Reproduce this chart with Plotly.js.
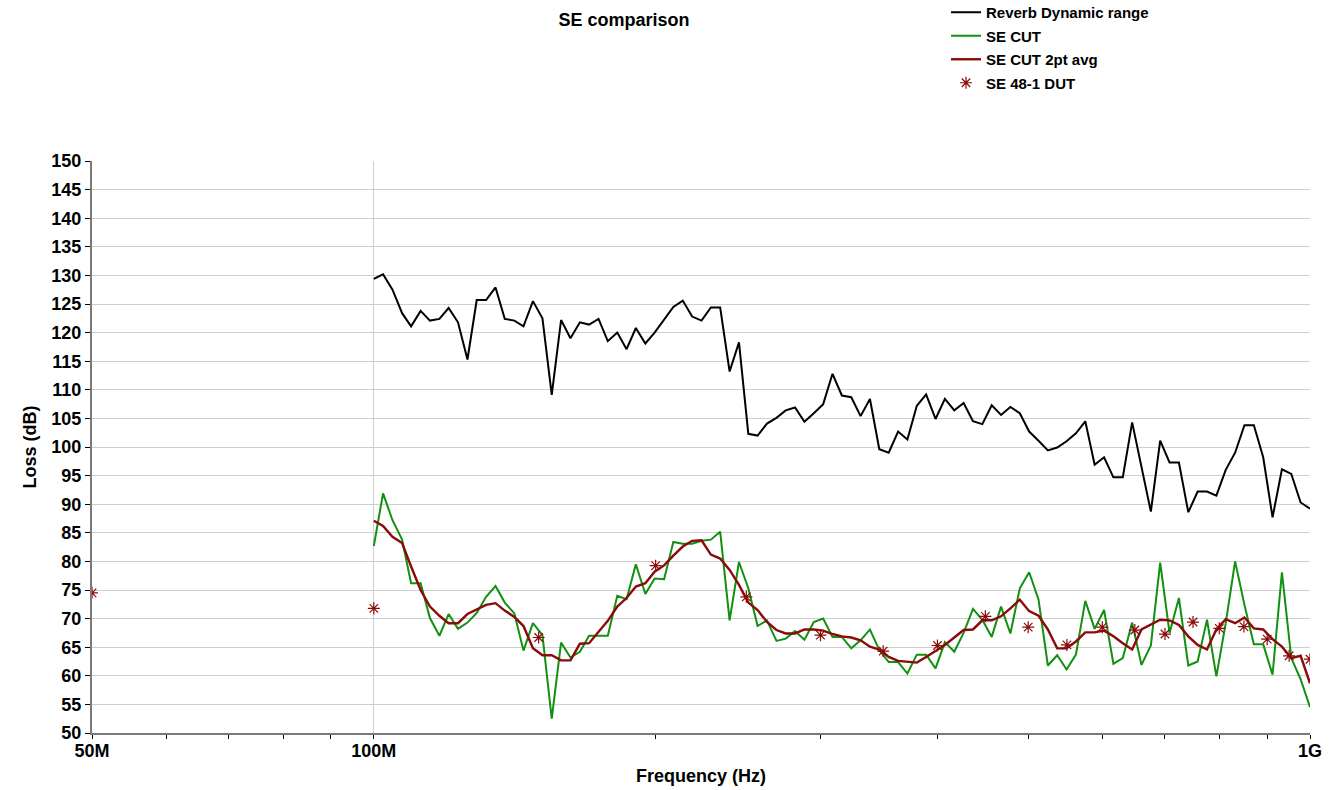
<!DOCTYPE html>
<html>
<head>
<meta charset="utf-8">
<script src="https://cdn.plot.ly/plotly-3.0.1.min.js"></script>
<style>html,body{margin:0;padding:0;background:#fff;}#chart{width:1342px;height:790px;}</style>
</head>
<body>
<div id="chart"></div>
<script>
// Sweep frequencies (MHz)
var freqMHz = [100,102.3,104.7,107.2,109.6,112.2,114.8,117.5,120.2,123.0,125.9,128.8,131.8,134.9,138.0,141.3,144.5,147.9,151.4,154.9,
158.5,162.2,166.0,169.8,173.8,177.8,182.0,186.2,190.5,195.0,199.5,204.2,208.9,213.8,218.8,223.9,229.1,234.4,239.9,245.5,
251.2,257.0,263.0,269.2,275.4,281.8,288.4,295.1,302.0,309.0,316.2,323.6,331.1,338.8,346.7,354.8,363.1,371.5,380.2,389.0,
398.1,407.4,416.9,426.6,436.5,446.7,457.1,467.7,478.6,489.8,501.2,512.9,524.8,537.0,549.5,562.3,575.4,588.8,602.6,616.6,
631.0,645.7,660.7,676.1,691.8,707.9,724.4,741.3,758.6,776.2,794.3,812.8,831.8,851.1,871.0,891.3,912.0,933.3,955.0,977.2,1000];

var reverbDynamicRange = [129.4,130.2,127.5,123.4,121.1,123.8,122.1,122.4,124.3,121.8,
115.3,125.7,125.7,127.9,122.4,122.1,121.1,125.5,122.5,109.1,
122.2,119.0,121.8,121.4,122.4,118.5,120.0,117.1,120.8,118.1,
120.0,122.2,124.5,125.6,122.8,122.1,124.4,124.4,113.2,118.3,
102.3,102.0,104.1,105.1,106.4,106.9,104.4,105.9,107.5,112.8,
109.0,108.7,105.4,108.4,99.6,99.0,102.7,101.3,107.2,109.2,
104.9,108.4,106.4,107.7,104.5,104.0,107.3,105.6,107.0,105.9,
102.7,101.1,99.4,99.9,101.0,102.4,104.5,96.9,98.2,94.7,
94.7,104.3,96.6,88.7,101.1,97.3,97.3,88.6,92.2,92.2,
91.5,96.0,99.0,103.8,103.8,98.2,87.7,96.1,95.3,90.3,89.2];

var seCut = [82.7,91.9,87.2,83.8,76.2,76.2,70.1,67.0,70.8,68.2,
69.3,71.0,73.8,75.7,72.8,70.9,64.4,69.2,67.1,52.5,
65.8,63.2,64.2,67.0,67.0,67.0,74.0,73.4,79.5,74.3,
77.0,76.9,83.4,83.1,83.1,83.6,83.8,85.2,69.7,79.9,
75.3,68.7,69.7,66.1,66.5,67.8,66.3,69.4,70.0,66.8,
66.8,64.8,66.2,68.1,64.5,62.4,62.4,60.4,63.7,63.7,
61.3,65.9,64.2,67.5,71.7,69.8,66.8,72.1,67.4,75.3,
78.1,73.3,61.8,63.6,61.1,63.7,73.1,68.2,71.5,62.1,
63.1,69.3,61.9,65.3,79.8,67.5,73.6,61.8,62.5,69.8,
59.9,69.2,80.0,72.4,65.5,65.5,60.2,78.1,63.1,59.4,54.5];

var seCut2ptAvg = [87.1,86.2,84.3,83.2,79.1,75.0,72.1,70.5,69.2,69.2,
70.8,71.6,72.4,72.7,71.4,70.3,68.7,64.8,63.6,63.6,
62.7,62.7,65.6,65.7,67.7,69.6,72.1,73.6,75.6,76.2,
78.2,79.3,81.0,82.6,83.6,83.7,81.2,80.5,78.5,75.9,
72.8,71.5,69.4,68.0,67.4,67.4,68.1,68.1,67.9,67.3,
66.9,66.7,66.2,65.1,64.6,63.3,62.6,62.4,62.3,63.3,
64.4,65.4,66.7,68.0,68.1,69.7,69.7,70.4,71.8,73.3,
71.3,70.5,68.1,64.8,64.8,66.0,67.6,67.6,67.9,66.9,
65.7,64.6,68.1,68.9,69.8,69.7,68.9,66.9,65.4,64.6,
68.1,69.9,69.2,70.2,68.3,68.1,66.4,65.1,63.1,63.5,58.7];

var dutFreqMHz = [50,100,150,200,250,300,350,400,450,500,550,600,650,700,750,800,850,900,950,1000];
var dutLoss = [74.5,71.8,66.7,79.25,73.8,67.1,64.3,65.3,70.4,68.5,65.4,68.5,68.0,67.3,69.4,68.3,68.6,66.4,63.5,62.9];

var xTickVals = [50,100,1000];
var xTickText = ['50M','100M','1G'];
var xMinorVals = [60,70,80,90,200,300,400,500,600,700,800,900];

var boldFont = 'Liberation Sans, Arial, sans-serif';

var traces = [
  {x: freqMHz, y: reverbDynamicRange, type:'scatter', mode:'lines', name:'Reverb Dynamic range',
   line:{color:'#000000', width:2}, legendgroup:'a'},
  {x: freqMHz, y: seCut, type:'scatter', mode:'lines', name:'SE CUT',
   line:{color:'#119011', width:2}, legendgroup:'b'},
  {x: freqMHz, y: seCut2ptAvg, type:'scatter', mode:'lines', name:'SE CUT 2pt avg',
   line:{color:'#8b0a0a', width:2.4}, legendgroup:'c'},
  {x: dutFreqMHz, y: dutLoss, type:'scatter', mode:'markers', name:'SE 48-1 DUT',
   marker:{symbol:'asterisk-open', size:10, color:'#8b0a0a', line:{color:'#8b0a0a', width:1.2}}, legendgroup:'d'}
];

var layout = {
  width:1342, height:790,
  margin:{l:92, r:32, t:161, b:57, autoexpand:false},
  paper_bgcolor:'#ffffff', plot_bgcolor:'#ffffff',
  font:{family:boldFont, color:'#000', weight:700},
  title:{text:'SE comparison', xref:'container', x:624/1342, xanchor:'center',
         yref:'container', y:1-20/790, yanchor:'middle',
         font:{family:boldFont, size:18, weight:700, color:'#000'}},
  showlegend:true,
  legend:{xref:'paper', yref:'paper', x:(946-92)/1218, y:1+165/572, xanchor:'left', yanchor:'top',
          font:{family:boldFont, size:15, weight:700, color:'#000'}, tracegroupgap:1,
          bgcolor:'rgba(0,0,0,0)'},
  xaxis:{type:'log', range:[Math.log10(50), 3], tickmode:'array', tickvals:xTickVals, ticktext:xTickText,
         showgrid:true, gridcolor:'#cfcfcf', gridwidth:1, zeroline:false,
         showline:true, linecolor:'#7a7a7a', linewidth:2,
         ticks:'outside', ticklen:4, tickcolor:'#000', tickwidth:1, ticklabelstandoff:-4,
         minor:{tickmode:'array', tickvals:xMinorVals, ticks:'outside', ticklen:4, tickcolor:'#000', tickwidth:1, showgrid:false},
         tickfont:{family:boldFont, size:18, weight:700, color:'#000'},
         title:{text:'Frequency (Hz)', font:{family:boldFont, size:18, weight:700, color:'#000'}, standoff:10},
         automargin:false},
  yaxis:{range:[50,150], tick0:50, dtick:5, showgrid:true, gridcolor:'#cfcfcf', gridwidth:1, zeroline:false,
         showline:true, linecolor:'#7a7a7a', linewidth:2,
         ticks:'outside', ticklen:5, tickcolor:'#000', tickwidth:1,
         tickfont:{family:boldFont, size:18, weight:700, color:'#000'},
         title:{text:'Loss (dB)', font:{family:boldFont, size:18, weight:700, color:'#000'}, standoff:10},
         automargin:false}
};

Plotly.newPlot('chart', traces, layout, {displayModeBar:false, staticPlot:true});
</script>
</body>
</html>
